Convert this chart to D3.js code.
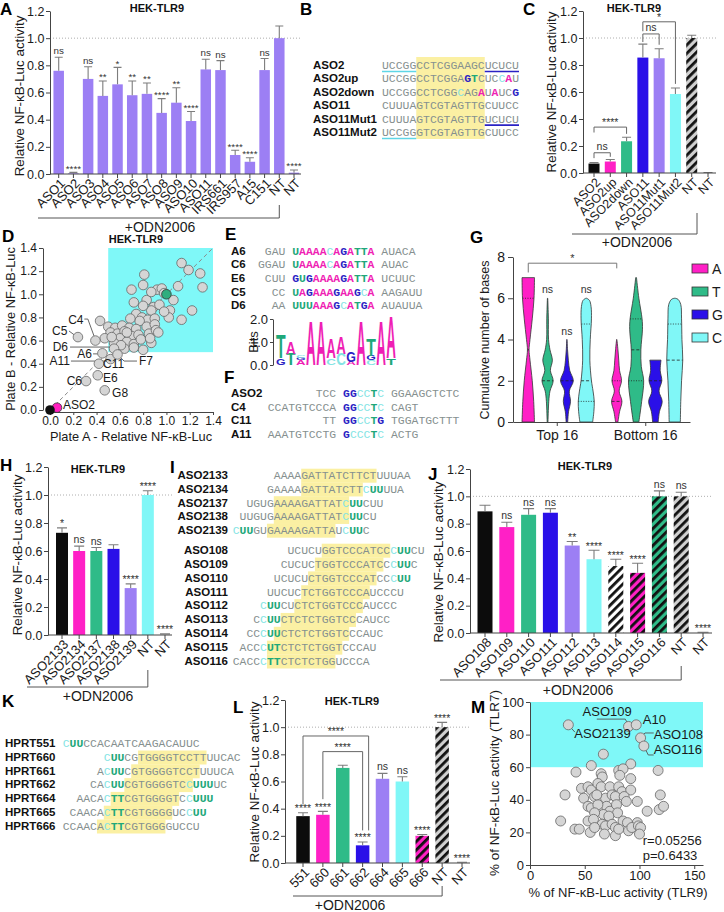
<!DOCTYPE html>
<html><head><meta charset="utf-8">
<script src="https://cdn.jsdelivr.net/npm/d3@7/dist/d3.min.js"></script>
<style>
html,body{margin:0;padding:0;background:#fff;}
svg{display:block;}
</style></head><body>
<script>
/* ===================== DATA ===================== */
// Panel A
const aCats=["ASO1","ASO2","ASO3","ASO4","ASO5","ASO6","ASO7","ASO8","ASO9","ASO10","ASO11","IRS661","IRS957","A15","C151","NT","NT"];
const aVals=[0.76,0.005,0.70,0.575,0.66,0.58,0.59,0.45,0.525,0.39,0.77,0.765,0.14,0.09,0.765,1.00,0.01];
const aErrs=[0.86,0.012,0.79,0.685,0.785,0.685,0.67,0.555,0.635,0.46,0.845,0.835,0.175,0.12,0.85,1.09,0.03];
const aSigs=["ns","****","ns","**","*","**","**","****","**","****","ns","ns","****","****","ns","","****"];
// Panel B
const bNames=["ASO2","ASO2up","ASO2down","ASO11","ASO11Mut1","ASO11Mut2"];
const bSeqs=["UCCGGCCTCGGAAGCUCUCU","UCCGGCCTCGGAGTCUCCAU","UCCGGCCTCGGCAGAUAUCG","CUUUAGTCGTAGTTGCUUCC","CUUUAGTCGTAGTTGUCUCU","UCCGGGTCGTAGTTGCUUCC"];
const bMarks=["","............**...**.","...........*..*.*..*","","",""];
const bUnder=[[[0,5,"c"],[15,20,"b"]],[],[],[],[[15,20,"b"]],[[0,5,"c"]]];
const bCore=[5,15];
// Panel C
const cCats=["ASO2","ASO2up","ASO2down","ASO11","ASO11Mut1","ASO11Mut2","NT","NT"];
const cVals=[0.07,0.085,0.235,0.855,0.85,0.585,1.0,0.0];
const cErrs=[0.078,0.10,0.265,0.955,0.92,0.63,1.02,0.004];
// Panel D
const dPts=[[1.13,1.27],[1.19,1.21],[1.29,1.18],[1.31,1.06],[0.81,1.17],[0.80,1.08],[0.70,1.04],[0.92,1.04],[0.96,1.05],[1.10,1.07],
[0.72,0.93],[0.83,0.95],[0.89,0.89],[0.94,0.91],[1.03,0.86],[1.06,0.95],[1.13,0.78],[1.02,0.80],[1.22,0.86],[0.87,0.86],
[0.74,0.83],[0.79,0.80],[0.84,0.78],[0.90,0.79],[0.77,0.77],[0.69,0.79],[0.43,0.77],[0.50,0.72],[0.56,0.71],[0.62,0.73],
[0.68,0.71],[0.74,0.70],[0.83,0.72],[0.90,0.74],[0.52,0.67],[0.58,0.66],[0.64,0.68],[0.70,0.64],[0.76,0.65],[0.85,0.66],
[0.91,0.69],[0.47,0.62],[0.60,0.62],[0.66,0.59],[0.72,0.57],[0.55,0.58],[0.64,0.53],[0.72,0.54],[0.80,0.52],[0.87,0.58],
[0.93,0.67],[0.53,0.63],[0.78,0.61],[0.86,0.62],[0.98,0.85],[0.87,1.02],[0.98,1.01],[0.80,0.90],[0.66,0.67],[0.61,0.56],
[0.24,0.63],[0.39,0.60],[0.55,0.53],[0.45,0.49],[0.52,0.44],[0.58,0.48],[0.42,0.40],[0.41,0.30],[0.31,0.25],[0.47,0.17]];
const dNT=[1.0,1.0], dASO2=[0.06,0.02], dNeg=[0,0];
const dLabels=["C4","C5","D6","A6","A11","C11","E6","C6","G8","F7","ASO2"];
// Panel E
const eNames=["A6","C6","E6","C5","D6"];
const eSeqs=[" GAU UAAAACAGATTA AUACA","GGAU UAAAACAGATTA AUAC"," CUU GUGAAAAGATTA UCUUC","  CC UAGAAAGAAGCA AAGAUU","  AA UUUAAAGCATGA AUAUUA"];
const eLogo=[[["G",0.3],["T",1.05]],[["T",0.5],["A",0.55]],[["A",0.2],["G",0.12],["C",0.12]],[["A",2.0]],[["A",2.0]],[["C",0.3],["A",0.9]],
 [["C",0.5],["A",0.75]],[["A",0.15],["G",0.45]],[["A",2.0]],[["C",0.2],["G",0.2],["T",0.75]],[["A",2.0]],[["T",0.3],["A",1.85]]];
// Panel F
const fNames=["ASO2","C4","C11","A11"];
const fSeqs=["       TCC GGCCTC GGAAGCTCTC","CCATGTCCCA GGCCTC CAGT","        TT GGCCTG TGGATGCTTT","AAATGTCCTG GCCCTC ACTG"];
// Panel G (value, relative density)
const gGroups=["Top 16","Bottom 16"];
const gBases=["A","T","G","C"];
const gTopA=[[0,.78],[1,.68],[2,.5],[3,.22],[3.5,.1],[4,.22],[5,.5],[6,.72],[7,.78]];
const gTopT=[[0,.05],[1,.15],[1.5,.3],[2,.7],[2.5,.35],[3,.6],[3.5,.3],[4,.12],[5,.1],[6,.02]];
const gTopG=[[0,.1],[.5,.2],[1,.45],[1.5,.3],[2,.8],[2.5,.35],[3,.18],[3.5,.08],[4,.02]];
const gTopC=[[0,.8],[.5,.95],[1,1],[1.5,.85],[2,.65],[3,.45],[4,.5],[5,.65],[5.6,.6],[5.9,.4],[6,.05]];
const gBotA=[[0,.15],[.5,.35],[1,.65],[1.5,.3],[2,.6],[2.5,.35],[3,.25],[3.5,.15],[4,.02]];
const gBotT=[[0,.35],[1,.7],[2,.95],[2.7,.65],[3.5,.6],[4.5,.8],[5,.75],[6,.35],[7,.05]];
const gBotG=[[0,.35],[.5,.5],[1,.85],[1.5,.45],[2,.8],[2.5,.6],[3,.7]];
const gBotC=[[0,.7],[1,.75],[2,.85],[3,1],[4,.9],[5,.85],[5.7,.75],[5.95,.4],[6,.05]];
const gMedians=[3.5,2,2,2,1,3.5,2,3];
const gQuartiles=[[6],[],[],[1,4.75],[2],[2,5],[],[4.75]];
// Panel H
const hCats=["ASO2133","ASO2134","ASO2137","ASO2138","ASO2139","NT","NT"];
const hVals=[0.73,0.60,0.60,0.615,0.335,1.0,0.004];
const hErrs=[0.765,0.635,0.625,0.645,0.365,1.03,0.008];
const hSigs=["*","ns","ns","","****","****","****"];
// Panel I
const iNames=["ASO2133","ASO2134","ASO2137","ASO2138","ASO2139","ASO108","ASO109","ASO110","ASO111","ASO112","ASO113","ASO114","ASO115","ASO116"];
const iSeqs=["AAAAGATTATCTTCTUUUAA","GAAAAGATTATCTTCUUUUA","UGUGAAAAGATTATCUUCUU","UUGUGAAAAGATTATCUUCU","CUUGUGAAAAGATTAUCUUC",
"UCUCUGGTCCCATCCCUUCU","CUCUCTGGTCCCATCCCUUC","UCUCUCTGGTCCCATCCCUU","UUCUCTCTGGTCCCAUCCCU","CUUCUCTCTGGTCCCAUCCC",
"CCUUCTCTCTGGTCCCAUCC","CCCUUCTCTCTGGTCCCAUC","ACCCUTCTCTCTGGTCCCAU","CACCCTTCTCTCTGGUCCCA"];
const iMarks=["","..............***...","..............***...","...............***..","***.............***.",
"...............***..","................***.",".................***","","***.................",
".***................","..***...............","...***..............","....***............."];
const iShift=[6,5,2,1,0,8,7,6,5,4,3,2,1,0];
const iHi=[[4,15],[5,14],[4,15],[5,16],[5,15],[5,15],[5,15],[5,15],[5,15],[5,15],[4,15],[4,15],[4,15],[5,15]];
// Panel J
const jCats=["ASO108","ASO109","ASO110","ASO111","ASO112","ASO113","ASO114","ASO115","ASO116","NT","NT"];
const jVals=[0.89,0.775,0.865,0.88,0.64,0.54,0.49,0.44,1.0,1.0,0.003];
const jErrs=[0.935,0.81,0.91,0.91,0.67,0.605,0.54,0.51,1.04,1.03,0.006];
const jSigs=["","ns","ns","ns","**","****","****","****","ns","ns","****"];
// Panel K
const kNames=["HPRT551","HPRT660","HPRT661","HPRT662","HPRT664","HPRT665","HPRT666"];
const kSeqs=["CUUCCACAATCAAGACAUUC","CUUCGTGGGGTCCTTUUCAC","ACUUCGTGGGGTCCTUUUCA","CACUUCGTGGGGTCCUUUUC","AACACTTCGTGGGGTCCUUU","CAACACTTCGTGGGGUCCUU","CCAACACTTCGTGGGGUCCU"];
const kMarks=["***.................","***.................",".***................","..***.........****..","....***.........****",".....***.........***","......***..........."];
const kShift=[0,6,5,4,2,1,0];
const kHi=[null,[5,15],[5,15],[5,15],[5,15],[5,15],[5,15]];
// Panel L
const lCats=["551","660","661","662","664","665","666","NT","NT"];
const lVals=[0.345,0.355,0.70,0.13,0.62,0.60,0.20,1.0,0.003];
const lErrs=[0.37,0.38,0.72,0.155,0.66,0.635,0.21,1.035,0.006];
const lSigs=["****","****","","****","ns","ns","****","****","****"];
// Panel M
const mPts=[[35,86],[90,85],[97,86],[101,78],[104,73],[67,68],[92,62],[56,61],[42,57],[65,56],[66,54],[81,58],[85,59],[82,55],[92,53],[117,58],
[47,47],[53,48],[56,46],[62,50],[65,48],[73,48],[81,48],[84,45],[92,46],[107,33],[118,34],[122,36],[119,43],[32,43],[49,41],[59,42],[69,41],
[75,43],[78,42],[86,42],[88,39],[98,39],[53,36],[56,35],[64,34],[70,36],[73,33],[79,37],[80,32],[62,37],[67,31],[72,30],[59,32],[28,27],
[53,27],[58,28],[66,25],[69,24],[75,25],[78,23],[85,27],[89,26],[98,26],[41,22],[45,22],[55,20],[59,23],[68,19],[78,18],[81,22],[90,21],
[93,23],[99,24],[101,23],[100,19],[61,43]];
const mLabels=["ASO2139","ASO109","A10","ASO108","ASO116"];
const mStats=["r=0.05256","p=0.6433"];

/* ===================== STYLE ===================== */
const FONT='"Liberation Sans", Arial, Helvetica, sans-serif';
const MONO='"Liberation Mono", "DejaVu Sans Mono", monospace';
const COL={black:"#0c0c0c",mag:"#ff20c6",grn:"#2fbb88",blu:"#2a10e8",lav:"#9c7ff4",cyn:"#80f7f7",gry:"#d0d0d0"};
const BASECOL={A:"#ef1fb4",T:"#1fa87a",U:"#1fa87a",G:"#2a22c4",C:"#84e4e4"};
const SEQGRAY="#86908f", YEL="#fbf0a3", CYANBOX="#7ff8f8";
const CW=6.85, SEQFS=CW/0.6;

const svg=d3.select("body").append("svg").attr("width",724).attr("height",912).style("font-family",FONT);
const defs=svg.append("defs");
function hatch(id,bg){
  const p=defs.append("pattern").attr("id",id).attr("patternUnits","userSpaceOnUse").attr("width",6).attr("height",6).attr("patternTransform","rotate(45)");
  p.append("rect").attr("width",6).attr("height",6).attr("fill",bg);
  p.append("rect").attr("width",2.8).attr("height",6).attr("fill","#111");
}
hatch("hGray",COL.gry);hatch("hWhite","#ffffff");hatch("hMag",COL.mag);hatch("hGrn",COL.grn);

function txt(x,y,s,o={}){
  const t=svg.append("text").attr("x",x).attr("y",y).text(s).attr("font-size",o.fs||12).attr("fill",o.fill||"#1a1a1a");
  if(o.anchor)t.attr("text-anchor",o.anchor);
  if(o.bold)t.attr("font-weight","bold");
  if(o.rot!=null)t.attr("transform",`rotate(${o.rot},${x},${y})`);
  return t;
}
function styleAxis(sel,fs){
  sel.attr("font-family",FONT).attr("font-size",fs);
  sel.selectAll("text").attr("fill","#1a1a1a").attr("font-size",fs);
  sel.selectAll(".domain,.tick line").attr("stroke","#444").attr("stroke-width",1);
}
function letter(s,x,y){txt(x,y,s,{fs:17,bold:true,fill:"#000"});}
function line(pts,o={}){
  return svg.append("path").attr("d",d3.line()(pts)).attr("fill","none").attr("stroke",o.stroke||"#555").attr("stroke-width",o.sw||1).attr("stroke-dasharray",o.dash||null);
}

function barPanel(o){
  const y=d3.scaleLinear().domain([0,1.2]).range([o.yb,o.yt]);
  const x=d3.scalePoint().domain(d3.range(o.cats.length)).range([o.c0,o.c1]);
  const g=svg.append("g");
  g.append("line").attr("x1",o.ax).attr("x2",o.xe).attr("y1",y(1)).attr("y2",y(1))
    .attr("stroke","#a5a5a5").attr("stroke-width",0.9).attr("stroke-dasharray","1,2");
  o.vals.forEach((v,i)=>{
    const cx=x(i), f=o.fills[i];
    if(f!=="none") g.append("rect").attr("x",cx-o.bw/2).attr("y",y(v)).attr("width",o.bw).attr("height",y(0)-y(v)).attr("fill",f);
    const e=o.errs[i];
    g.append("path").attr("d",`M${cx},${y(v)}V${y(e)}M${cx-o.cap},${y(e)}H${cx+o.cap}`).attr("stroke","#7d7d7d").attr("stroke-width",1.1).attr("fill","none");
    const s=o.sigs?o.sigs[i]:"";
    if(s) g.append("text").attr("x",cx).attr("y",y(e)-(s[0]==="*"?0.5:3)).attr("text-anchor","middle").attr("font-size",o.sfs||10.5).attr("fill","#333").text(s);
    g.append("line").attr("x1",cx).attr("x2",cx).attr("y1",y(0)).attr("y2",y(0)+4).attr("stroke","#444");
    g.append("text").attr("text-anchor","end").attr("font-size",o.lfs).attr("fill","#1a1a1a").attr("dy","0.35em")
      .attr("transform",`translate(${cx+4},${y(0)+7}) rotate(-45)`).text(o.cats[i]);
  });
  g.append("line").attr("x1",o.ax).attr("x2",o.xe).attr("y1",y(0)).attr("y2",y(0)).attr("stroke","#444");
  const ya=g.append("g").attr("transform",`translate(${o.ax},0)`)
    .call(d3.axisLeft(y).tickValues([0,0.2,0.4,0.6,0.8,1.0,1.2]).tickFormat(d3.format(".1f")).tickSize(4).tickSizeOuter(0).tickPadding(1.5));
  styleAxis(ya,12.5);
  txt(o.title[0],o.title[1],"HEK-TLR9",{fs:11,bold:true,anchor:"middle",fill:"#111"});
  txt(o.ylab[0],o.ylab[1],"Relative NF-κB-Luc activity",{fs:13.4,anchor:"middle",rot:-90});
  return {x,y};
}
function odn(xl,xr,yl,ytop,tx,ty){
  line([[xl,yl],[xr,yl],[xr,ytop]],{stroke:"#555"});
  txt(tx,ty,"+ODN2006",{fs:14,anchor:"middle"});
}
function sig(p,i1,i2,v,vl,vr,label,dx2=0){
  const X1=p.x(i1),X2=p.x(i2)+dx2,Y=p.y(v);
  line([[X1,p.y(vl)],[X1,Y],[X2,Y],[X2,p.y(vr)]],{stroke:"#666"});
  txt((X1+X2)/2,Y-(label[0]==="*"?1:3),label,{fs:10.5,anchor:"middle",fill:"#333"});
}
function seqRow(x0,y,str,marks){
  const t=svg.append("text").attr("y",y).attr("font-family",MONO).attr("font-size",SEQFS);
  const colOf=k=>(marks&&marks[k]==="*")?BASECOL[str[k]]:SEQGRAY;
  let i=0;
  while(i<str.length){
    if(str[i]===" "){i++;continue;}
    const c=colOf(i);let j=i+1;
    while(j<str.length&&str[j]!==" "&&colOf(j)===c)j++;
    const ts=t.append("tspan").attr("x",x0+i*CW).attr("fill",c).text(str.slice(i,j));
    if(c!==SEQGRAY&&str[i]!=="C")ts.attr("font-weight","bold");
    i=j;
  }
}

/* ===================== PANEL A ===================== */
letter("A",0,15);
const pA=barPanel({cats:aCats,vals:aVals,errs:aErrs,sigs:aSigs,sfs:9.8,fills:aCats.map(()=>COL.lav),
  ax:50,xe:301,yb:174,yt:11,c0:58.7,c1:294,bw:10.5,cap:4,lfs:13,title:[157,12],ylab:[24,96]});
odn(38,pA.x(15),218,205,160,232);

/* ===================== PANEL B ===================== */
letter("B",300,15);
{
  const x0=382, rowY=i=>69+i*13.4;
  svg.append("rect").attr("x",x0+bCore[0]*CW).attr("y",57).attr("width",(bCore[1]-bCore[0])*CW).attr("height",82).attr("fill",YEL);
  bNames.forEach((n,i)=>{
    txt(313,rowY(i),n,{fs:11.5,bold:true,fill:"#111"});
    seqRow(x0,rowY(i),bSeqs[i],bMarks[i]);
    bUnder[i].forEach(([s,e,c])=>line([[x0+s*CW,rowY(i)+2.5],[x0+e*CW,rowY(i)+2.5]],{stroke:c==="c"?"#5fd6e6":"#2a22c4",sw:1.6}));
  });
}

/* ===================== PANEL C ===================== */
letter("C",523,15);
const pC=barPanel({cats:cCats,vals:cVals,errs:cErrs,fills:[COL.black,COL.mag,COL.grn,COL.blu,COL.lav,COL.cyn,"url(#hGray)","none"],
  ax:583,xe:716,yb:173,yt:11,c0:594,c1:708,bw:11,cap:4.5,lfs:12.5,title:[634,12],ylab:[556,92]});
sig(pC,0,2,0.34,0.30,0.29,"****");
sig(pC,0,1,0.15,0.11,0.12,"ns");
sig(pC,3,4,1.03,0.97,0.95,"ns");
sig(pC,3,5,1.12,1.05,0.66,"*");
odn(572,697,234,213,637,247);

/* ===================== PANEL D ===================== */
letter("D",2,242);
{
  const x=d3.scaleLinear().domain([0,1.4]).range([50,213]);
  const y=d3.scaleLinear().domain([0,1.4]).range([410,248]);
  svg.append("rect").attr("x",x(0.5)).attr("y",y(1.4)).attr("width",x(1.4)-x(0.5)).attr("height",y(0.5)-y(1.4)).attr("fill",CYANBOX);
  line([[x(0),y(0)],[x(1.4),y(1.4)]],{stroke:"#8a8a8a",dash:"4,3"});
  const xa=svg.append("g").attr("transform","translate(0,412)").call(d3.axisBottom(x).tickValues(d3.range(0,8).map(i=>i*0.2)).tickFormat(d3.format(".1f")).tickSize(3).tickSizeOuter(0).tickPadding(1.5));
  styleAxis(xa,12);
  const ya=svg.append("g").attr("transform","translate(43,0)").call(d3.axisLeft(y).tickValues(d3.range(0,8).map(i=>i*0.2)).tickFormat(d3.format(".1f")).tickSize(4).tickSizeOuter(0).tickPadding(2));
  styleAxis(ya,12);
  txt(136,243,"HEK-TLR9",{fs:11,bold:true,anchor:"middle",fill:"#111"});
  txt(131,441,"Plate A - Relative NF-κB-Luc",{fs:12.8,anchor:"middle"});
  txt(15,329,"Plate B - Relative NF-κB-Luc",{fs:12.8,anchor:"middle",rot:-90});
  const L=(pts)=>line(pts.map(p=>[x(p[0]),y(p[1])]),{stroke:"#555",sw:0.9});
  L([[0.295,0.786],[0.325,0.786],[0.378,0.64]]);
  L([[0.163,0.683],[0.21,0.648]]);
  L([[0.172,0.544],[0.515,0.544],[0.55,0.53]]);
  L([[0.37,0.485],[0.41,0.485]]);
  L([[0.18,0.423],[0.50,0.423],[0.52,0.44]]);
  L([[0.747,0.423],[0.636,0.423],[0.58,0.48]]);
  dPts.forEach(p=>svg.append("circle").attr("cx",x(p[0])).attr("cy",y(p[1])).attr("r",4.8).attr("fill","#d5d5d5").attr("stroke","#666").attr("stroke-width",0.8));
  svg.append("circle").attr("cx",x(dNT[0])).attr("cy",y(dNT[1])).attr("r",4.8).attr("fill","#2fae7e").attr("stroke","#333").attr("stroke-width",0.8);
  svg.append("circle").attr("cx",x(dASO2[0])).attr("cy",y(dASO2[1])).attr("r",4.8).attr("fill","#ff1fbf").attr("stroke","#333").attr("stroke-width",0.8);
  svg.append("circle").attr("cx",x(dNeg[0])).attr("cy",y(dNeg[1])).attr("r",4.8).attr("fill","#111");
  const lp=[[0.288,0.743,"end"],[0.15,0.648,"end"],[0.155,0.51,"end"],[0.361,0.449,"end"],[0.172,0.389,"end"],[0.455,0.363,"start"],[0.455,0.242,"start"],[0.275,0.216,"end"],[0.533,0.112,"start"],[0.764,0.389,"start"],[0.112,0.012,"start"]];
  dLabels.forEach((t,i)=>txt(x(lp[i][0]),y(lp[i][1]),t,{fs:12,anchor:lp[i][2]}));
}

/* ===================== PANEL E ===================== */
letter("E",225,240);
{
  const x0=258, rowY=i=>254.7+i*13.6;
  eNames.forEach((n,i)=>{
    txt(231,rowY(i),n,{fs:11.5,bold:true,fill:"#111"});
    const marks=eSeqs[i].split("").map((c,k)=>(k>=5&&k<17)?"*":".").join("");
    seqRow(x0,rowY(i),eSeqs[i],marks);
  });
  const ly=d3.scaleLinear().domain([0,2]).range([365,319]);
  const lx=d3.scaleBand().domain(d3.range(eLogo.length)).range([276,396]).paddingInner(0.04);
  const ya=svg.append("g").attr("transform","translate(273,0)").call(d3.axisLeft(ly).tickValues([0,1,2]).tickSize(3).tickSizeOuter(0).tickPadding(2));
  styleAxis(ya,13);
  txt(258,342,"Bits",{fs:13,anchor:"middle",rot:-90});
  eLogo.forEach((stack,i)=>{
    let base=0;
    stack.forEach(([ch,h])=>{
      const y0=ly(base),y1=ly(base+h),fs=20,cap=0.729*fs;
      svg.append("text").attr("transform",`translate(${lx(i)},${y0}) scale(1,${(y0-y1)/cap})`)
        .attr("font-size",fs).attr("font-weight","bold").attr("textLength",lx.bandwidth()).attr("lengthAdjust","spacingAndGlyphs")
        .attr("fill",BASECOL[ch]).text(ch);
      base+=h;
    });
  });
}

/* ===================== PANEL F ===================== */
letter("F",224,383);
{
  const x0=267.7, rowY=i=>397+i*13.5;
  fNames.forEach((n,i)=>{
    txt(231,rowY(i),n,{fs:11.5,bold:true,fill:"#111"});
    const marks=fSeqs[i].split("").map((c,k)=>(k>=11&&k<17)?"*":".").join("");
    seqRow(x0,rowY(i),fSeqs[i],marks);
  });
}

/* ===================== PANEL G ===================== */
letter("G",470,243);
{
  const y=d3.scaleLinear().domain([0,8]).range([422,257]);
  const gx=d3.scaleBand().domain(gGroups).range([513,690]);
  const ix=d3.scalePoint().domain(gBases).range([-29,29]);
  const w=d3.scaleLinear().domain([0,1]).range([0,8]);
  const vio=[gTopA,gTopT,gTopG,gTopC,gBotA,gBotT,gBotG,gBotC];
  const fills={A:COL.mag,T:COL.grn,G:COL.blu,C:COL.cyn};
  vio.forEach((pts,k)=>{
    const grp=gGroups[Math.floor(k/4)], b=gBases[k%4];
    const cx=gx(grp)+gx.bandwidth()/2+ix(b);
    const area=d3.area().curve(d3.curveCatmullRom).y(d=>y(d[0])).x0(d=>cx-w(d[1])).x1(d=>cx+w(d[1]));
    svg.append("path").attr("d",area(pts)).attr("fill",fills[b]).attr("stroke","#333").attr("stroke-width",0.8);
    const dens=d3.scaleLinear().domain(pts.map(p=>p[0])).range(pts.map(p=>p[1])).clamp(true);
    const hl=(v,dash)=>line([[cx-w(dens(v)),y(v)],[cx+w(dens(v)),y(v)]],{stroke:"#222",sw:0.8,dash});
    if(gMedians[k]!=null)hl(gMedians[k],"3,2");
    gQuartiles[k].forEach(v=>hl(v,"1,1.5"));
  });
  const xa=svg.append("g").attr("transform","translate(0,422)").call(d3.axisBottom(gx).tickSize(4).tickSizeOuter(0).tickPadding(4));
  styleAxis(xa,14);
  const ya=svg.append("g").attr("transform","translate(513,0)").call(d3.axisLeft(y).tickValues([0,2,4,6,8]).tickSize(5).tickSizeOuter(0).tickPadding(3));
  styleAxis(ya,14);
  txt(489,340,"Cumulative number of bases",{fs:12.5,anchor:"middle",rot:-90});
  const cA=gx("Top 16")+gx.bandwidth()/2+ix("A"), cB=gx("Bottom 16")+gx.bandwidth()/2+ix("A");
  line([[cA,y(7.25)],[cA,y(7.7)],[cB,y(7.7)],[cB,y(7.45)]],{stroke:"#777"});
  txt((cA+cB)/2,y(7.7)-1,"*",{fs:11,anchor:"middle",fill:"#333"});
  [["T",6],["G",4],["C",6]].forEach(([b,v])=>txt(gx("Top 16")+gx.bandwidth()/2+ix(b),y(v)-5,"ns",{fs:10.5,anchor:"middle",fill:"#333"}));
  gBases.forEach((b,i)=>{
    svg.append("rect").attr("x",692).attr("y",264+i*23).attr("width",16).attr("height",9).attr("fill",fills[b]).attr("stroke","#333").attr("stroke-width",0.8);
    txt(712,273.5+i*23,b,{fs:14});
  });
}

/* ===================== PANEL H ===================== */
letter("H",0,471);
const pH=barPanel({cats:hCats,vals:hVals,errs:hErrs,sigs:hSigs,fills:[COL.black,COL.mag,COL.grn,COL.blu,COL.lav,COL.cyn,"none"],
  ax:48,xe:172,yb:635,yt:467,c0:62,c1:165,bw:12,cap:5,lfs:13,title:[98,473],ylab:[22,555]});
odn(27,pH.x(5),687,670,98,701);

/* ===================== PANEL I ===================== */
letter("I",170,473);
{
  const x0=232.7, rowY=i=>i<5?479+i*13.75:554+(i-5)*13.85;
  iNames.forEach((n,i)=>{
    const h=iHi[i];
    svg.append("rect").attr("x",x0+(iShift[i]+h[0])*CW).attr("y",rowY(i)-10.3).attr("width",(h[1]-h[0])*CW).attr("height",14).attr("fill",YEL);
  });
  iNames.forEach((n,i)=>{
    txt(228,rowY(i),n,{fs:11.5,bold:true,fill:"#111",anchor:"end"});
    seqRow(x0+iShift[i]*CW,rowY(i),iSeqs[i],iMarks[i]);
  });
}

/* ===================== PANEL J ===================== */
letter("J",428,480);
const pJ=barPanel({cats:jCats,vals:jVals,errs:jErrs,sigs:jSigs,
  fills:[COL.black,COL.mag,COL.grn,COL.blu,COL.lav,COL.cyn,"url(#hWhite)","url(#hMag)","url(#hGrn)","url(#hGray)","none"],
  ax:470,xe:712,yb:633,yt:469,c0:485,c1:703,bw:15,cap:5.5,lfs:13,title:[585,470],ylab:[443,562]});
odn(440,pJ.x(9),680,666,578,695);

/* ===================== PANEL K ===================== */
letter("K",2,707);
{
  const x0=62.7, rowY=i=>747+i*13.8;
  kNames.forEach((n,i)=>{
    const h=kHi[i];
    if(h) svg.append("rect").attr("x",x0+(kShift[i]+h[0])*CW).attr("y",rowY(i)-10.3).attr("width",(h[1]-h[0])*CW).attr("height",14).attr("fill",YEL);
  });
  kNames.forEach((n,i)=>{
    txt(5,rowY(i),n,{fs:11.5,bold:true,fill:"#111"});
    seqRow(x0+kShift[i]*CW,rowY(i),kSeqs[i],kMarks[i]);
  });
}

/* ===================== PANEL L ===================== */
letter("L",233,713);
const pL=barPanel({cats:lCats,vals:lVals,errs:lErrs,sigs:lSigs,
  fills:[COL.black,COL.mag,COL.grn,COL.blu,COL.lav,COL.cyn,"url(#hMag)","url(#hGray)","none"],
  ax:285,xe:470,yb:863,yt:700,c0:303,c1:462,bw:13.5,cap:5,lfs:13,title:[352,705],ylab:[259,782]});
sig(pL,0,3,0.935,0.43,0.24,"****",6);
sig(pL,1,3,0.82,0.47,0.24,"****");
odn(293,pL.x(7),896,886,350,910);

/* ===================== PANEL M ===================== */
letter("M",471,713);
{
  const x=d3.scaleLinear().domain([0,158]).range([530,703]);
  const y=d3.scaleLinear().domain([0,100]).range([865,702]);
  svg.append("rect").attr("x",x(0)).attr("y",y(100)).attr("width",x(158)-x(0)).attr("height",y(60)-y(100)).attr("fill",CYANBOX);
  const xa=svg.append("g").attr("transform","translate(0,865)").call(d3.axisBottom(x).tickValues([0,50,100,150]).tickSize(4).tickSizeOuter(0).tickPadding(2));
  styleAxis(xa,13);
  const ya=svg.append("g").attr("transform","translate(530,0)").call(d3.axisLeft(y).tickValues([0,20,40,60,80,100]).tickSize(4).tickSizeOuter(0).tickPadding(2));
  styleAxis(ya,13);
  txt(618,897,"% of NF-κB-Luc activity (TLR9)",{fs:13,anchor:"middle"});
  txt(499,783,"% of NF-κB-Luc activity (TLR7)",{fs:13.5,anchor:"middle",rot:-90});
  const L=(pts)=>line(pts.map(p=>[x(p[0]),y(p[1])]),{stroke:"#555",sw:0.9});
  L([[35,86],[41,81.5]]);
  L([[61,89.5],[87,89.5],[90,86]]);
  L([[101,78],[105,81],[113,81]]);
  L([[104,73],[108,67.5],[113,67.5]]);
  mPts.forEach(p=>svg.append("circle").attr("cx",x(p[0])).attr("cy",y(p[1])).attr("r",5).attr("fill","#d5d5d5").attr("stroke","#666").attr("stroke-width",0.8));
  const mp=[[40.5,78],[48,91.5],[103,86.5],[113,77.3],[113,68.3]];
  mLabels.forEach((t,i)=>txt(x(mp[i][0]),y(mp[i][1]),t,{fs:13}));
  txt(x(103),y(12.3),mStats[0],{fs:13});
  txt(x(103),y(2.8),mStats[1],{fs:13});
}
</script></body></html>
